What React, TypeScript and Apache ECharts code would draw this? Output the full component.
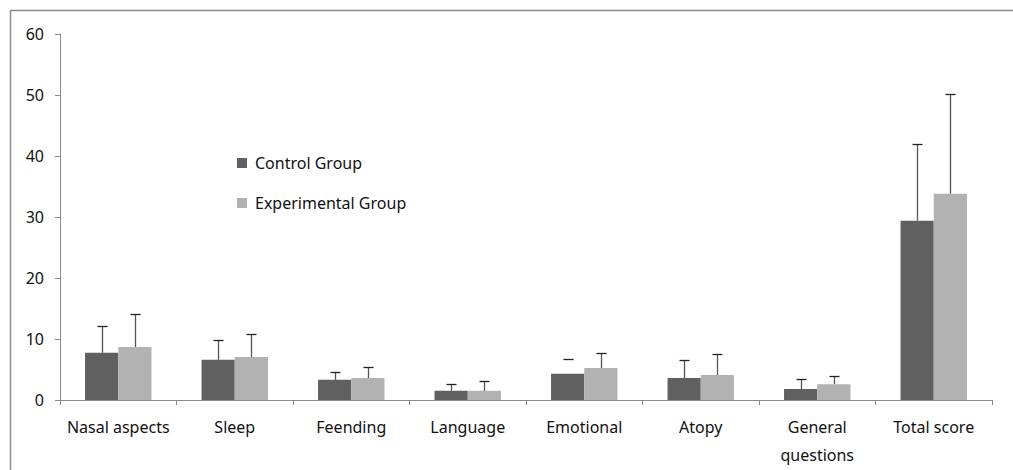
import React, { useEffect, useRef } from "react";
import * as echarts from "echarts";

const categories = ["Nasal aspects", "Sleep", "Feending", "Language", "Emotional", "Atopy", "General\nquestions", "Total score"];
const controlMean = [7.75, 6.6, 3.3, 1.5, 4.3, 3.6, 1.8, 29.4];
const controlUpper = [12.1, 9.8, 4.6, 2.7, 6.7, 6.5, 3.4, 41.9];
const controlStem = [1, 1, 1, 1, 0, 1, 1, 1];
const experimentalMean = [8.7, 7.05, 3.6, 1.5, 5.25, 4.1, 2.6, 33.8];
const experimentalUpper = [14.05, 10.9, 5.35, 3.1, 7.65, 7.5, 3.9, 50.2];
const yTicks = { min: 0, max: 60, interval: 10 };

const FONT = "Noto Sans";
const BAR_W = 0.285;

function errorSeries(name: string, upper: number[], mean: number[], side: number, stem: number[] | null) {
  return {
    type: "custom",
    name: name + " err",
    silent: true,
    z: 5,
    data: upper.map((u, i) => [i, mean[i], u, stem ? stem[i] : 1]),
    renderItem: (params: any, api: any) => {
      const idx = api.value(0);
      const m = api.value(1);
      const u = api.value(2);
      const s = api.value(3);
      const catW = api.size([1, 0])[0];
      const bw = catW * BAR_W;
      const pBase = api.coord([idx, m]);
      const pTop = api.coord([idx, u]);
      const x = Math.round(pBase[0] + side * bw / 2) + 0.5;
      const yTop = Math.round(pTop[1]) + 0.5;
      const children: any[] = [];
      if (s) {
        children.push({ type: "line", shape: { x1: x, y1: pBase[1], x2: x, y2: yTop }, style: { stroke: "#555", lineWidth: 1.3 } });
      }
      children.push({ type: "line", shape: { x1: x - 5, y1: yTop, x2: x + 5, y2: yTop }, style: { stroke: "#222", lineWidth: 1.3 } });
      return { type: "group", children };
    },
  };
}

export default function App() {
  const ref = useRef<HTMLDivElement>(null);
  useEffect(() => {
    if (!ref.current) return;
    const chart = echarts.init(ref.current, undefined, { renderer: "svg" });
    chart.setOption({
      animation: false,
      backgroundColor: "#fff",
      textStyle: { fontFamily: FONT },
      grid: { left: 60, right: 21, top: 34, bottom: 70 },
      legend: {
        orient: "vertical",
        left: 232,
        top: 150,
        itemWidth: 10,
        itemHeight: 10,
        itemGap: 24,
        icon: "rect",
        data: ["Control Group", "Experimental Group"],
        textStyle: { fontFamily: FONT, fontSize: 16, color: "#111", padding: [0, 0, 0, 3] },
      },
      xAxis: {
        type: "category",
        data: categories,
        axisLine: { lineStyle: { color: "#8a8a8a", width: 1 } },
        axisTick: { show: true, length: 5, alignWithLabel: false, lineStyle: { color: "#8a8a8a" } },
        axisLabel: { fontFamily: FONT, fontSize: 16, color: "#111", margin: 13, lineHeight: 28, interval: 0 },
      },
      yAxis: {
        type: "value",
        min: yTicks.min,
        max: yTicks.max,
        interval: yTicks.interval,
        splitLine: { show: false },
        axisLine: { show: true, lineStyle: { color: "#8a8a8a", width: 1 } },
        axisTick: { show: true, length: 5, lineStyle: { color: "#8a8a8a" } },
        axisLabel: { fontFamily: FONT, fontSize: 16, color: "#111", margin: 16 },
      },
      graphic: [
        { type: "rect", shape: { x: 10.5, y: 10.5, width: 1020, height: 480 }, style: { fill: "none", stroke: "#8a8a8a", lineWidth: 1.5 }, silent: true, z: 100 },
      ],
      series: [
        { type: "bar", name: "Control Group", data: controlMean, barWidth: (BAR_W * 100) + "%", barGap: "0%", itemStyle: { color: "#606060" } },
        { type: "bar", name: "Experimental Group", data: experimentalMean, barWidth: (BAR_W * 100) + "%", barGap: "0%", itemStyle: { color: "#b2b2b2" } },
        errorSeries("Control Group", controlUpper, controlMean, -1, controlStem),
        errorSeries("Experimental Group", experimentalUpper, experimentalMean, 1, null),
      ],
    });
    return () => chart.dispose();
  }, []);
  return <div ref={ref} style={{ position: "fixed", left: 0, top: 0, width: 1013, height: 470 }} />;
}
